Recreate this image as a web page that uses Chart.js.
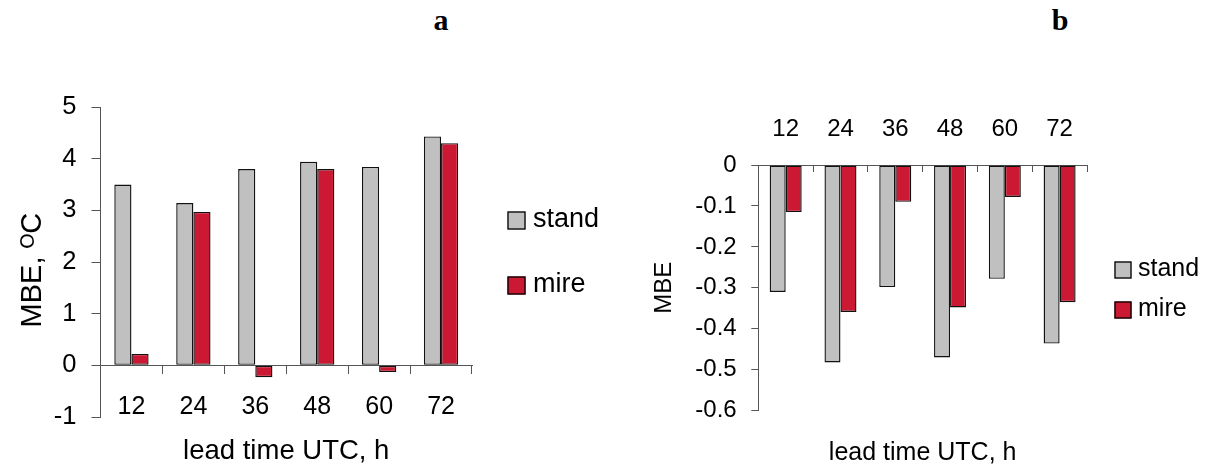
<!DOCTYPE html>
<html>
<head>
<meta charset="utf-8">
<script src="https://cdn.jsdelivr.net/npm/chart.js@4.4.1/dist/chart.umd.min.js"></script>
<style>
  html, body { margin: 0; padding: 0; background: #fff; }
  #wrap { position: relative; width: 1206px; height: 468px; overflow: hidden; background: #fff; }
  canvas { position: absolute; top: 0; }
  .panel { position: absolute; top: 5px; font: bold 30px 'Liberation Serif', 'Times New Roman', serif; line-height: 30px; transform: translateX(-50%); color: #000; }
</style>
</head>
<body>
<div id="wrap">
  <div class="panel" style="left:441px">a</div>
  <div class="panel" style="left:1060px">b</div>
  <canvas id="ca" width="603" height="468" style="left:0"></canvas>
  <canvas id="cb" width="603" height="468" style="left:603px"></canvas>
</div>
<script>
// ---- data ----
const categories = ['12', '24', '36', '48', '60', '72'];
const seriesNames = ['stand', 'mire'];
const standA = [3.50, 3.14, 3.80, 3.94, 3.84, 4.43];
const mireA  = [0.22, 2.97, -0.23, 3.80, -0.13, 4.30];
const standB = [-0.310, -0.482, -0.298, -0.470, -0.278, -0.436];
const mireB  = [-0.115, -0.359, -0.090, -0.348, -0.078, -0.335];
const yTicksA = [-1, 0, 1, 2, 3, 4, 5];
const yTicksB = [0, -0.1, -0.2, -0.3, -0.4, -0.5, -0.6];
const xTitle = 'lead time UTC, h';
const yTitleA = 'MBE, \u1D3CC\u00A0\u00A0';
const yTitleB = 'MBE';

// ---- styling ----
const FONT = "'Liberation Sans', 'DejaVu Sans', Arial, sans-serif";
const GRAY = '#C0C0C0';
const RED = '#CC1933';
const AXIS = '#555555';
Chart.defaults.font.family = FONT;
Chart.defaults.color = '#000';

const customLegend = {
  id: 'customLegend',
  afterDraw(chart, args, opts) {
    const items = Chart.defaults.plugins.legend.labels.generateLabels(chart);
    const ctx = chart.ctx;
    ctx.save();
    items.forEach((it, i) => {
      const top = opts.tops[i];
      ctx.fillStyle = it.fillStyle;
      ctx.fillRect(opts.x, top, opts.box, opts.box);
      ctx.lineWidth = 1.3;
      ctx.strokeStyle = '#000';
      ctx.strokeRect(opts.x + 0.5, top + 0.5, opts.box - 1, opts.box - 1);
      ctx.fillStyle = '#000';
      ctx.font = opts.fontSize + 'px ' + FONT;
      ctx.textBaseline = 'middle';
      ctx.textAlign = 'left';
      ctx.fillText(it.text, opts.textX, top + opts.box / 2 - 1);
    });
    ctx.restore();
  }
};

function makeDatasets(s, m, catPct) {
  return [
    { label: seriesNames[0], data: s, backgroundColor: GRAY, borderColor: '#111', borderWidth: 1.4, borderSkipped: false, categoryPercentage: catPct, barPercentage: 1 },
    { label: seriesNames[1], data: m, backgroundColor: RED, borderColor: '#111', borderWidth: 1.4, borderSkipped: false, categoryPercentage: catPct, barPercentage: 1 }
  ];
}

// ---- chart a ----
new Chart(document.getElementById('ca'), {
  type: 'bar',
  data: { labels: categories, datasets: makeDatasets(standA, mireA, 0.554) },
  plugins: [customLegend],
  options: {
    responsive: false, animation: false, devicePixelRatio: 1,
    layout: { padding: { left: 0, top: 107, right: 131, bottom: 0 } },
    plugins: {
      legend: { display: false }, tooltip: { enabled: false },
      customLegend: { x: 507.5, tops: [211.5, 276.5], box: 18, textX: 533, fontSize: 27 }
    },
    scales: {
      x: {
        type: 'category', position: { y: 0 },
        grid: { offset: true, drawOnChartArea: false, tickLength: 8, color: AXIS },
        border: { display: true, color: AXIS },
        ticks: { font: { size: 25 }, padding: 19, color: '#000', maxRotation: 0 }
      },
      x2: {
        type: 'category', position: 'bottom',
        grid: { display: false }, border: { display: false },
        ticks: { display: false },
        title: { display: true, text: xTitle, font: { size: 27.5 }, padding: 0, color: '#000' },
        afterFit(s) { s.height = 51; }
      },
      y: {
        min: -1, max: 5,
        afterBuildTicks(s) { s.ticks = yTicksA.map(v => ({ value: v })); },
        grid: { drawOnChartArea: false, tickLength: 9, color: AXIS },
        border: { display: true, color: AXIS },
        ticks: { font: { size: 25.5 }, padding: 15, color: '#000' },
        title: { display: true, text: yTitleA, font: { size: 29 }, padding: { top: 16, bottom: 0 }, color: '#000' },
        afterFit(s) { s.width = 100.5; }
      }
    }
  }
});

// ---- chart b ----
new Chart(document.getElementById('cb'), {
  type: 'bar',
  data: { labels: categories, datasets: makeDatasets(standB, mireB, 0.584) },
  plugins: [customLegend],
  options: {
    responsive: false, animation: false, devicePixelRatio: 1,
    layout: { padding: { left: 0, top: 0, right: 119, bottom: 0 } },
    plugins: {
      legend: { display: false }, tooltip: { enabled: false },
      customLegend: { x: 511.5, tops: [261.5, 301.5], box: 17, textX: 535, fontSize: 25 }
    },
    scales: {
      x: {
        type: 'category', position: 'top',
        grid: { offset: true, drawOnChartArea: false, tickLength: -7, color: AXIS },
        border: { display: true, color: AXIS },
        ticks: { font: { size: 24 }, padding: 28, color: '#000', maxRotation: 0 },
        afterFit(s) { s.height = 165; }
      },
      x2: {
        type: 'category', position: 'bottom',
        grid: { display: false }, border: { display: false },
        ticks: { display: false },
        title: { display: true, text: xTitle, font: { size: 25 }, padding: 0, color: '#000' },
        afterFit(s) { s.height = 57.3; }
      },
      y: {
        min: -0.6, max: 0,
        afterBuildTicks(s) { s.ticks = yTicksB.map(v => ({ value: v })); },
        grid: { drawOnChartArea: false, tickLength: 7, color: AXIS },
        border: { display: true, color: AXIS },
        ticks: { font: { size: 24 }, padding: 14.6, color: '#000',
                 callback: v => (v === 0 ? '0' : Number(v).toFixed(1)) },
        title: { display: true, text: yTitleB, font: { size: 24 }, padding: { top: 47, bottom: 0 }, color: '#000' },
        afterFit(s) { s.width = 155.3; }
      }
    }
  }
});
</script>
</body>
</html>
